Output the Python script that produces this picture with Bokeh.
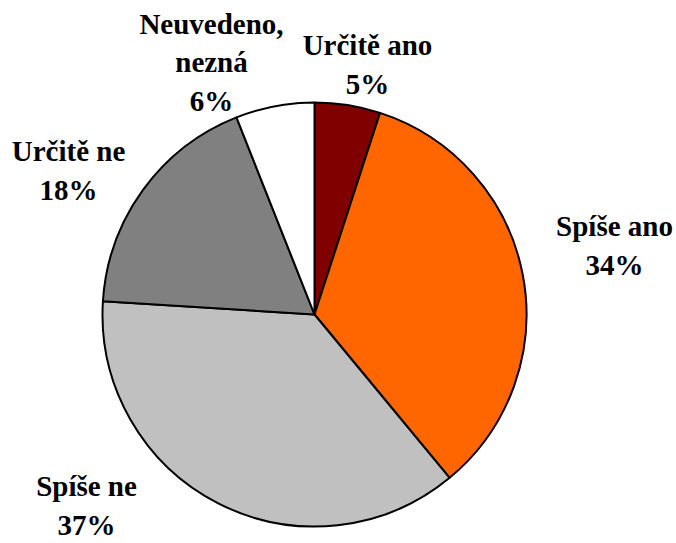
import numpy as np
from bokeh.plotting import figure
from bokeh.models import ColumnDataSource, Range1d
from bokeh.core.properties import value
from bokeh.embed import file_html
from bokeh.resources import INLINE

categories = ["Určitě ano", "Spíše ano", "Spíše ne", "Určitě ne", "Neuvedeno,\nnezná"]
percents = [5, 34, 37, 18, 6]
colors = ["#800000", "#FF6600", "#C0C0C0", "#808080", "#FFFFFF"]

# label block centres (page pixel coordinates)
label_x = [367, 614, 86, 68, 211]
label_y = [64, 245, 505, 170, 62]

W, H = 676, 543
p = figure(width=W, height=H, output_backend="svg", toolbar_location=None,
           x_range=Range1d(0, W), y_range=Range1d(-H, 0),
           min_border=0, outline_line_color=None)
p.axis.visible = False
p.grid.visible = False
p.background_fill_color = "white"
p.border_fill_color = "white"

vals = np.array(percents, dtype=float)
ang = vals / vals.sum() * 2 * np.pi
start = np.pi / 2 - np.concatenate([[0], np.cumsum(ang)[:-1]])
end = start - ang

src = ColumnDataSource(dict(start=start, end=end, color=colors))
p.wedge(x=314, y=-314, radius=212, start_angle="start", end_angle="end",
        direction="clock", fill_color="color", line_color="black",
        line_width=2, source=src)

texts = [f"{c}\n{v}%" for c, v in zip(categories, percents)]
lsrc = ColumnDataSource(dict(x=label_x, y=[-y for y in label_y], t=texts))
p.text(x="x", y="y", text="t", source=lsrc, text_align="center",
       text_baseline="middle", text_font=value("Liberation Serif"),
       text_font_style="bold", text_font_size="29px", text_color="black",
       text_line_height=1.2)

open("out.html", "w").write(file_html(p, INLINE))
